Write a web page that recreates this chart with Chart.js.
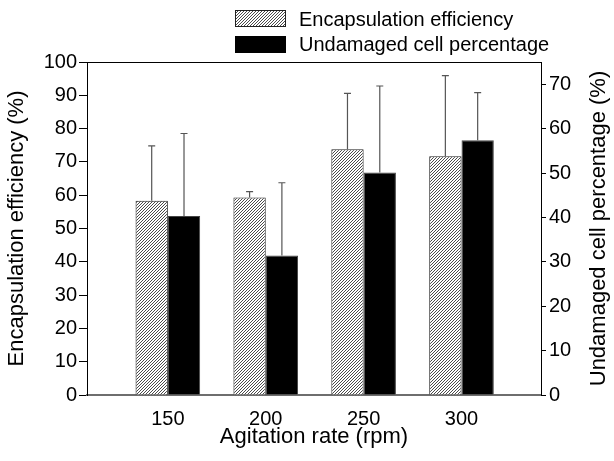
<!DOCTYPE html>
<html>
<head>
<meta charset="utf-8">
<script src="https://cdn.jsdelivr.net/npm/chart.js@4.4.1/dist/chart.umd.min.js"></script>
<style>
    html, body { margin: 0; padding: 0; background: #fff; }
</style>
</head>
<body>
<canvas id="chart" width="614" height="461"></canvas>
<script>
const rates = [150, 200, 250, 300];
const efficiency = [58.3, 59.3, 73.8, 71.7];
const efficiencyErr = [16.5, 1.8, 16.8, 24.2];
const undamaged = [40.3, 31.4, 50.1, 57.4];
const undamagedErr = [18.6, 16.4, 19.5, 10.7];

const FONT = "'Liberation Sans', Arial, Helvetica, sans-serif";

// diagonal hatch fill for the efficiency bars
function makeHatch() {
    const size = 3;
    const c = document.createElement('canvas');
    c.width = size;
    c.height = size;
    const g = c.getContext('2d');
    g.fillStyle = '#fff';
    g.fillRect(0, 0, size, size);
    g.strokeStyle = '#4a4a4a';
    g.lineWidth = 1;
    g.beginPath();
    g.moveTo(0, size);
    g.lineTo(size, 0);
    g.moveTo(-1, 1);
    g.lineTo(1, -1);
    g.moveTo(size - 1, size + 1);
    g.lineTo(size + 1, size - 1);
    g.stroke();
    return g.createPattern(c, 'repeat');
}

const canvas = document.getElementById('chart');
const ctx = canvas.getContext('2d');
const hatch = makeHatch();

const errorBarsPlugin = {
    id: 'errorBars',
    afterDatasetsDraw(chart) {
        const { ctx } = chart;
        chart.data.datasets.forEach((ds, i) => {
            const meta = chart.getDatasetMeta(i);
            const scale = chart.scales[ds.yAxisID];
            ctx.save();
            ctx.strokeStyle = '#555';
            ctx.lineWidth = 1.2;
            meta.data.forEach((bar, j) => {
                const top = scale.getPixelForValue(ds.data[j].y + ds.errors[j]);
                ctx.beginPath();
                ctx.moveTo(bar.x, bar.y);
                ctx.lineTo(bar.x, top);
                ctx.moveTo(bar.x - 3.5, top);
                ctx.lineTo(bar.x + 3.5, top);
                ctx.stroke();
            });
            ctx.restore();
        });
    },
};

const framePlugin = {
    id: 'frame',
    afterDraw(chart) {
        const { ctx, chartArea } = chart;
        ctx.save();

        // top border of the plot box
        ctx.strokeStyle = '#000';
        ctx.lineWidth = 1;
        ctx.beginPath();
        ctx.moveTo(chartArea.left, chartArea.top + 0.5);
        ctx.lineTo(chartArea.right, chartArea.top + 0.5);
        ctx.stroke();

        // right axis title, reading bottom to top
        ctx.fillStyle = '#000';
        ctx.font = '22px ' + FONT;
        ctx.textAlign = 'center';
        ctx.textBaseline = 'middle';
        ctx.translate(599, (chartArea.top + chartArea.bottom) / 2);
        ctx.rotate(-Math.PI / 2);
        ctx.fillText('Undamaged cell percentage (%)', 0, 0);
        ctx.restore();

        // legend
        ctx.save();
        ctx.fillStyle = hatch;
        ctx.fillRect(235, 10, 51, 17);
        ctx.strokeStyle = '#222';
        ctx.lineWidth = 1;
        ctx.strokeRect(235.5, 10.5, 50, 16);
        ctx.fillStyle = '#000';
        ctx.fillRect(235, 36, 51, 17);
        ctx.font = '20px ' + FONT;
        ctx.textAlign = 'left';
        ctx.textBaseline = 'alphabetic';
        ctx.fillText(chart.data.datasets[0].label, 299, 25.5);
        ctx.fillText(chart.data.datasets[1].label, 299, 50.5);
        ctx.restore();
    },
};

new Chart(ctx, {
    type: 'bar',
    data: {
        datasets: [
            {
                label: 'Encapsulation efficiency',
                data: rates.map((r, i) => ({ x: r, y: efficiency[i] })),
                errors: efficiencyErr,
                yAxisID: 'y',
                backgroundColor: hatch,
                borderColor: '#222',
                borderWidth: 1,
            },
            {
                label: 'Undamaged cell percentage',
                data: rates.map((r, i) => ({ x: r, y: undamaged[i] })),
                errors: undamagedErr,
                yAxisID: 'y1',
                backgroundColor: '#000',
                borderColor: '#444',
                borderWidth: 1,
            },
        ],
    },
    options: {
        responsive: false,
        animation: false,
        categoryPercentage: 0.66,
        barPercentage: 1.0,
        layout: { padding: { top: 62, left: 0, right: 0, bottom: 0 } },
        plugins: {
            legend: { display: false },
            tooltip: { enabled: false },
        },
        scales: {
            x: {
                type: 'linear',
                offset: false,
                min: 108.7,
                max: 340.6,
                afterBuildTicks: (axis) => {
                    axis.ticks = rates.map((v) => ({ value: v }));
                },
                afterFit: (axis) => { axis.height = 66; },
                grid: { display: false, drawTicks: false, offset: false },
                border: { display: true, color: '#6e6e6e', width: 2 },
                ticks: {
                    padding: 12,
                    color: '#000',
                    font: { family: FONT, size: 20 },
                },
                title: {
                    display: true,
                    text: 'Agitation rate (rpm)',
                    color: '#000',
                    font: { family: FONT, size: 22 },
                    padding: { top: 0, bottom: 11 },
                },
            },
            y: {
                position: 'left',
                min: 0,
                max: 100,
                afterFit: (axis) => { axis.width = 87; },
                ticks: {
                    stepSize: 10,
                    padding: 2,
                    color: '#000',
                    font: { family: FONT, size: 20 },
                },
                grid: { drawOnChartArea: false, color: '#000', tickLength: 8 },
                border: { display: true, color: '#000', width: 1 },
                title: {
                    display: true,
                    text: 'Encapsulation efficiency (%)',
                    color: '#000',
                    font: { family: FONT, size: 22 },
                    padding: { top: 4, bottom: 0 },
                },
            },
            y1: {
                position: 'right',
                min: 0,
                max: 75,
                afterFit: (axis) => { axis.width = 73; },
                ticks: {
                    stepSize: 10,
                    includeBounds: false,
                    padding: 3,
                    color: '#000',
                    font: { family: FONT, size: 20 },
                },
                grid: { drawOnChartArea: false, color: '#000', tickLength: 5 },
                border: { display: true, color: '#000', width: 1 },
            },
        },
    },
    plugins: [errorBarsPlugin, framePlugin],
});
</script>
</body>
</html>
